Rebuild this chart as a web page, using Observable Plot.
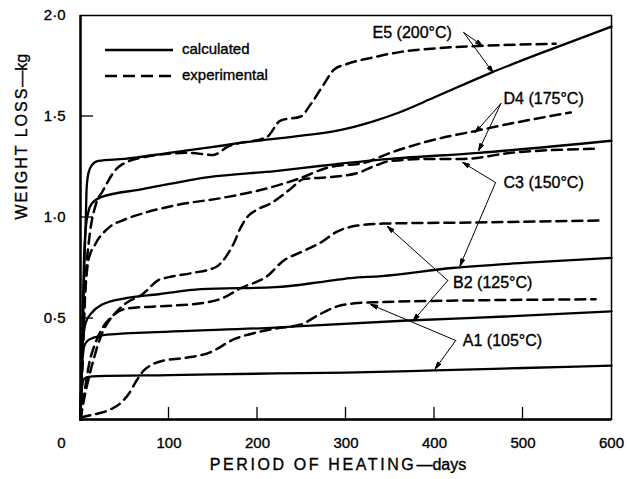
<!DOCTYPE html>
<html><head><meta charset="utf-8">
<script src="https://cdn.jsdelivr.net/npm/d3@7"></script>
<script src="https://cdn.jsdelivr.net/npm/@observablehq/plot@0.6"></script>
<style>
body{margin:0;background:#fff}
#chart svg text{stroke:#000;stroke-width:0.35px}
</style>
</head><body><div id="chart"></div>
<script>
// [day, weight loss kg]
const A1_calculated = [[0,0],[1,0.12],[2,0.17],[4,0.2],[8,0.21],[20,0.215],[100,0.22],[220,0.228],[300,0.232],[400,0.243],[500,0.255],[600,0.267]];
const A1_experimental = [[0,0.01],[10,0.02],[20,0.03],[34,0.05],[45,0.08],[55,0.13],[63,0.19],[71,0.24],[80,0.27],[92,0.29],[118,0.305],[145,0.33],[175,0.40],[198,0.43],[220,0.45],[249,0.47],[270,0.52],[290,0.56],[310,0.575],[330,0.58],[450,0.59],[582,0.595]];
const B2_calculated = [[0,0],[1,0.2],[2,0.3],[4,0.36],[8,0.39],[15,0.405],[30,0.42],[100,0.435],[220,0.455],[260,0.465],[370,0.49],[480,0.51],[600,0.535]];
const B2_experimental = [[0,0],[4,0.1],[9,0.2],[15,0.3],[22,0.4],[28,0.46],[34,0.5],[53,0.55],[87,0.56],[136,0.575],[160,0.6],[181,0.65],[211,0.71],[229,0.785],[250,0.83],[271,0.875],[290,0.93],[313,0.96],[342,0.97],[440,0.975],[588,0.985]];
const C3_calculated = [[0,0],[1,0.25],[3,0.4],[6,0.48],[13,0.53],[25,0.57],[50,0.60],[88,0.62],[136,0.645],[220,0.655],[271,0.68],[305,0.70],[340,0.71],[420,0.75],[500,0.775],[600,0.80]];
const C3_experimental = [[0,0],[4,0.12],[10,0.28],[17,0.38],[25,0.455],[38,0.52],[51,0.575],[70,0.62],[88,0.69],[100,0.705],[126,0.725],[153,0.755],[165,0.81],[173,0.87],[181,0.95],[190,1.01],[200,1.04],[215,1.07],[237,1.14],[252,1.19],[282,1.20],[313,1.22],[335,1.26],[350,1.28],[395,1.29],[433,1.29],[486,1.32],[580,1.34]];
const D4_calculated = [[0,0],[2,0.4],[4,0.8],[6,0.95],[9,1.03],[13,1.07],[23,1.10],[70,1.14],[145,1.20],[220,1.23],[270,1.255],[350,1.29],[450,1.32],[600,1.38]];
const D4_experimental = [[0,0],[3,0.45],[6,0.67],[9,0.79],[17,0.87],[32,0.95],[50,0.99],[70,1.02],[107,1.06],[164,1.10],[207,1.14],[245,1.19],[282,1.25],[320,1.27],[350,1.32],[395,1.38],[448,1.43],[486,1.465],[554,1.52]];
const E5_calculated = [[0,0],[2,0.3],[4,0.7],[6,1.0],[7,1.15],[9,1.22],[13,1.26],[20,1.28],[50,1.29],[100,1.32],[150,1.35],[200,1.38],[250,1.405],[290,1.43],[330,1.475],[360,1.52],[400,1.595],[463,1.715],[530,1.83],[600,1.945]];
const E5_experimental = [[0,0],[3,0.35],[6,0.7],[10,0.9],[17,1.06],[25,1.13],[43,1.25],[73,1.30],[121,1.32],[150,1.31],[166,1.35],[211,1.40],[226,1.48],[249,1.50],[260,1.56],[275,1.66],[286,1.73],[301,1.76],[328,1.79],[362,1.82],[410,1.84],[455,1.85],[537,1.86]];

const xTicks = [100, 200, 300, 400, 500, 600];
const yTicks = [0.5, 1.0, 1.5, 2.0];
const xTitle = "PERIOD OF HEATING—days";
const yTitle = "WEIGHT LOSS—kg";
const legendLabels = ["calculated", "experimental"];

const labelText = ["E5 (200°C)", "D4 (175°C)", "C3 (150°C)", "B2 (125°C)", "A1 (105°C)"];
const labelDay = [330, 478, 478, 421, 432];
const labelLoss = [1.916, 1.589, 1.173, 0.678, 0.391];
const arrowFromDay = [433, 475, 469, 415, 424];
const arrowFromLoss = [1.916, 1.564, 1.173, 0.688, 0.391];
const arrowToExpDay = [454, 446, 432, 347, 328];
const arrowToExpLoss = [1.851, 1.421, 1.272, 0.955, 0.569];
const arrowToCalcDay = [466, 450, 429, 376, 401];
const arrowToCalcLoss = [1.718, 1.332, 0.762, 0.49, 0.252];

const series = [
  ["A1","calculated",A1_calculated],["A1","experimental",A1_experimental],
  ["B2","calculated",B2_calculated],["B2","experimental",B2_experimental],
  ["C3","calculated",C3_calculated],["C3","experimental",C3_experimental],
  ["D4","calculated",D4_calculated],["D4","experimental",D4_experimental],
  ["E5","calculated",E5_calculated],["E5","experimental",E5_experimental]
];
const rows = series.flatMap(([id, kind, pts]) => pts.map(([d, w]) => ({key: id + kind, kind, d, w})));
const labels = labelText.map((t, i) => ({t, x: labelDay[i], y: labelLoss[i]}));
const arrows = labelText.flatMap((t, i) => [
  {x1: arrowFromDay[i], y1: arrowFromLoss[i], x2: arrowToExpDay[i], y2: arrowToExpLoss[i]},
  {x1: arrowFromDay[i], y1: arrowFromLoss[i], x2: arrowToCalcDay[i], y2: arrowToCalcLoss[i]}
]);

const font = "'Liberation Sans', Arial, Helvetica, sans-serif";

// inward ticks drawn through the plot's own scales
const innerTicks = (index, scales) => {
  const g = d3.create("svg:g").attr("stroke", "#000").attr("stroke-width", 1.3);
  const y0 = scales.y(0), x0 = scales.x(0);
  xTicks.slice(0, 5).forEach(t => g.append("line")
    .attr("x1", scales.x(t)).attr("x2", scales.x(t)).attr("y1", y0).attr("y2", y0 - 12));
  yTicks.slice(0, 3).forEach(t => g.append("line")
    .attr("x1", x0).attr("x2", x0 + 13).attr("y1", scales.y(t)).attr("y2", scales.y(t)));
  return g.node();
};

const legendMark = (index, scales, values, dims) => {
  const g = d3.create("svg:g");
  const x0 = dims.marginLeft + 25, x1 = dims.marginLeft + 93, y0 = dims.marginTop + 35;
  [0, 1].forEach(i => {
    const y = y0 + i * 26;
    g.append("line").attr("x1", x0).attr("x2", x1).attr("y1", y).attr("y2", y)
      .attr("stroke", "#000").attr("stroke-width", 2.4)
      .attr("stroke-dasharray", i ? "12,6" : null);
    g.append("text").attr("x", x1 + 9).attr("y", y + 4).attr("font-size", 15)
      .attr("text-anchor", "start").attr("fill", "#000").text(legendLabels[i]);
  });
  return g.node();
};

const chart = Plot.plot({
  width: 631, height: 479,
  marginLeft: 80, marginRight: 20, marginTop: 15, marginBottom: 60,
  x: {domain: [0, 600]},
  y: {domain: [0, 2]},
  style: {fontFamily: font, fontSize: "15px", color: "#000", background: "#fff"},
  marks: [
    Plot.frame({stroke: "#000", strokeWidth: 1.5}),
    Plot.ruleX([0], {stroke: "#000", strokeWidth: 2.4}),
    Plot.ruleY([0], {stroke: "#000", strokeWidth: 2.4}),
    innerTicks,
    Plot.axisX(xTicks, {tickSize: 0, tickPadding: 18, label: null, fontSize: 15, tickFormat: d => String(d)}),
    Plot.axisY(yTicks, {tickSize: 0, tickPadding: 15, label: null, fontSize: 15, tickFormat: d => d.toFixed(1).replace(".", "·")}),
    Plot.text([0], {x: 0, y: 0, text: () => "0", dx: -19, dy: 24, fontSize: 15}),
    Plot.text([xTitle], {text: d => d, frameAnchor: "bottom", dy: 50, dx: -8, fontSize: 16}),
    Plot.text([yTitle], {text: d => d, frameAnchor: "left", dx: -59, dy: 2, rotate: -90, fontSize: 16}),
    Plot.line(rows.filter(r => r.kind === "calculated"), {x: "d", y: "w", z: "key", curve: "monotone-x", stroke: "#000", strokeWidth: 2.3}),
    Plot.line(rows.filter(r => r.kind === "experimental"), {x: "d", y: "w", z: "key", curve: "monotone-x", stroke: "#000", strokeWidth: 2.5, strokeDasharray: "10,6"}),
    Plot.arrow(arrows, {x1: "x1", y1: "y1", x2: "x2", y2: "y2", stroke: "#000", strokeWidth: 1, headLength: 10, headAngle: 32}),
    Plot.text(labels, {x: "x", y: "y", text: "t", textAnchor: "start", fontSize: 16}),
    legendMark
  ]
});

// filled arrowheads
d3.select(chart).selectAll('g[aria-label="arrow"] path').each(function() {
  const d = this.getAttribute("d");
  if (!d) return;
  const parts = d.split("M");
  const head = parts[parts.length - 1];
  d3.select(this.parentNode).append("path").attr("d", "M" + head + "Z")
    .attr("fill", "#000").attr("stroke", "#000").attr("stroke-width", 1);
});
// letter spacing on the capitalised part of axis titles
const spaced = (full, caps, rest, ls) => {
  d3.select(chart).selectAll("text").filter(function() { return this.textContent === full; }).each(function() {
    this.textContent = "";
    d3.select(this).append("tspan").style("letter-spacing", ls).text(caps);
    d3.select(this).append("tspan").style("letter-spacing", "0px").text(rest);
  });
};
spaced(xTitle, "PERIOD OF HEATING", "—days", "2.6px");
spaced(yTitle, "WEIGHT LOSS", "—kg", "2px");

document.getElementById("chart").appendChild(chart);
</script>
</body></html>
